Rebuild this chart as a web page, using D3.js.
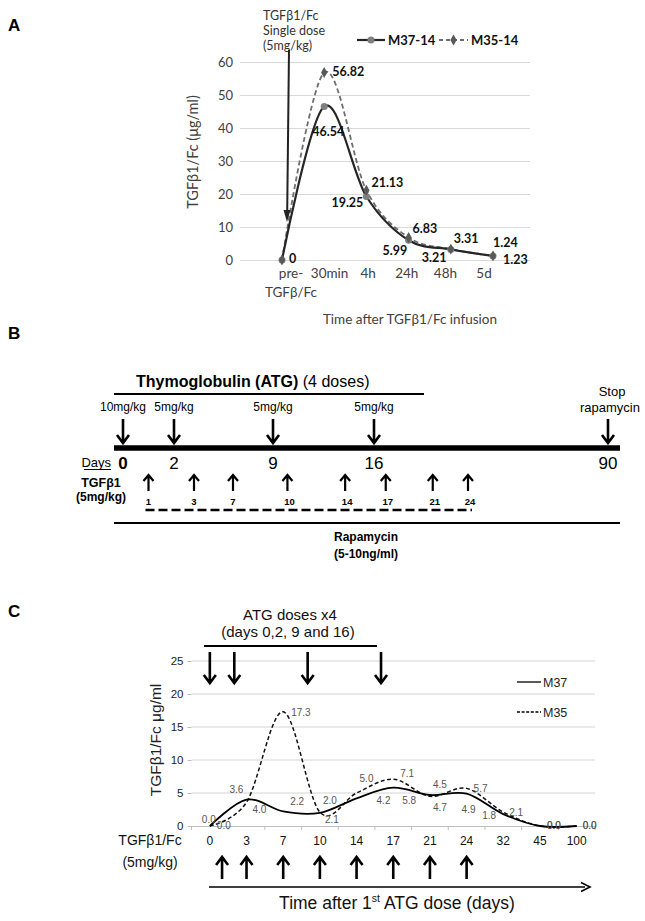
<!DOCTYPE html>
<html><head><meta charset="utf-8">
<script src="https://cdn.jsdelivr.net/npm/d3@7"></script>
<style>body{margin:0;background:#fff} svg{display:block}</style>
</head><body>
<svg id="c" width="645" height="921"></svg>
<script>
// ---------- DATA ----------
// Panel A
const aCategories = ["pre-TGFβ/Fc","30min","4h","24h","48h","5d"];
const aLabelLines = [["pre-","TGFβ/Fc"],["30min"],["4h"],["24h"],["48h"],["5d"]];
const aM37 = [0, 46.54, 19.25, 5.99, 3.21, 1.23];
const aM35 = [0, 56.82, 21.13, 6.83, 3.31, 1.24];
const aYTicks = [0,10,20,30,40,50,60];
// Panel B
const bAtgDays = [0,2,9,16];
const bAtgDoses = ["10mg/kg","5mg/kg","5mg/kg","5mg/kg"];
const bStopDay = 90;
const bDayLabels = [0,2,9,16,90];
const bTgfDays = [1,3,7,10,14,17,21,24];
// Panel C
const cDays = ["0","3","7","10","14","17","21","24","32","45","100"];
const cM37 = [0.0,4.0,2.2,2.0,4.2,5.8,4.7,4.9,1.8,0.0,0.0];
const cM35 = [0.0,3.6,17.3,2.1,5.0,7.1,4.5,5.7,2.1,0.0,0.0];
const cYTicks = [0,5,10,15,20,25];
const cAtgDays = [0,2,9,16];
const cTgfDays = [1,3,7,10,14,17,21,24];

// ---------- STYLE / LABEL PLACEMENT ----------
const aM37LabelOff = [[7,3],[-12,30],[-35,11],[-26,15],[-29,13],[10,8]];
const aM35LabelOff = [[7,3],[8,4],[5,-3],[4,-4],[3,-6],[0,-9]];
const cM37LabelOff = [[-8,-3],[6,13],[7,-6.5],[3,-9],[20,5.5],[9,16],[3,16],[-5,19],[-21,5],[7,3],[6,3]];
const cM35LabelOff = [[7,3],[-17,-9.5],[8,4],[5,11],[3,-11.5],[7,-2.5],[3,-8.5],[7,3.5],[6,3.5],[7,3],[6,3]];

const svg = d3.select("#c");
const FA = "Lato, 'Open Sans', sans-serif";
const FB = "'Liberation Sans', Arial, sans-serif";

function arrowV(g, x, y1, y2, head, w, hw) {
  const dir = Math.sign(y2 - y1);
  hw = hw || head;
  g.append("path")
    .attr("d", `M${x},${y1}L${x},${y2 - dir*1}M${x-hw},${y2-dir*head}L${x},${y2}L${x+hw},${y2-dir*head}`)
    .attr("fill","none").attr("stroke","#000").attr("stroke-width",w)
    .attr("stroke-linejoin","miter").attr("stroke-linecap","butt");
}
function txt(g, x, y, s, o) {
  o = o || {};
  return g.append("text").attr("x",x).attr("y",y).text(s)
    .attr("font-family", o.ff || FB).attr("font-size", o.fs || 12)
    .attr("font-weight", o.fw || "normal").attr("fill", o.fill || "#000")
    .attr("text-anchor", o.anchor || "start");
}

// ================= PANEL A =================
const A = svg.append("g");
txt(A, 8, 31, "A", {fs:17, fw:"bold"});
const ax = d3.scalePoint().domain(aCategories).range([282, 493]);
const axLab = d3.scalePoint().domain(aCategories).range([291, 484]);
const ay = d3.scaleLinear().domain([0,60]).range([260,62]);

const aAxis = A.append("g").attr("transform","translate(240,0)")
  .call(d3.axisLeft(ay).tickValues(aYTicks).tickSize(-290).tickPadding(7));
aAxis.select(".domain").remove();
aAxis.selectAll(".tick line").attr("stroke","#d9d9d9");
aAxis.selectAll(".tick text").attr("font-family",FA).attr("font-size",13).attr("fill","#404040");

A.append("text").attr("transform","translate(198,152) rotate(-90)")
  .attr("text-anchor","middle").attr("font-family",FA).attr("font-size",14.5).attr("fill","#404040")
  .text("TGFβ1/Fc (μg/ml)");
aCategories.forEach((c,i) => {
  aLabelLines[i].forEach((ln,j) => {
    txt(A, axLab(c), 278 + j*19, ln, {ff:FA, fs:13.5, anchor:"middle", fill:"#404040"});
  });
});
txt(A, 410, 323.5, "Time after TGFβ1/Fc infusion", {ff:FA, fs:13.5, anchor:"middle", fill:"#404040"});

const smooth = d3.curveCatmullRom.alpha(0);
const aLine = d3.line().x((d,i)=>ax(aCategories[i])).y(d=>ay(d)).curve(smooth);
A.append("path").attr("d", aLine(aM35)).attr("fill","none").attr("stroke","#6e6e6e")
  .attr("stroke-width",1.8).attr("stroke-dasharray","5,3");
A.append("path").attr("d", aLine(aM37)).attr("fill","none").attr("stroke","#262626")
  .attr("stroke-width",2.2);
A.selectAll("circle.m37").data(aM37).join("circle").attr("cx",(d,i)=>ax(aCategories[i])).attr("cy",d=>ay(d))
  .attr("r",3.5).attr("fill","#7f7f7f");
const diamond = d3.symbol().type(d3.symbolDiamond).size(34);
A.selectAll("path.m35").data(aM35).join("path").attr("d",diamond)
  .attr("transform",(d,i)=>`translate(${ax(aCategories[i])},${ay(d)})`).attr("fill","#595959");
aM37.forEach((v,i) => {
  const [dx,dy] = aM37LabelOff[i];
  txt(A, ax(aCategories[i])+dx, ay(v)+dy, String(v), {ff:FA, fs:12.5, fw:"bold", fill:"#111"});
});
aM35.forEach((v,i) => {
  if (i === 0) return;
  const [dx,dy] = aM35LabelOff[i];
  txt(A, ax(aCategories[i])+dx, ay(v)+dy, String(v), {ff:FA, fs:12.5, fw:"bold", fill:"#111"});
});
A.append("line").attr("x1",357).attr("x2",385).attr("y1",40).attr("y2",40).attr("stroke","#262626").attr("stroke-width",2.2);
A.append("circle").attr("cx",371).attr("cy",40).attr("r",3.5).attr("fill","#7f7f7f");
txt(A, 388, 44.5, "M37-14", {ff:FA, fs:13, fw:"bold", fill:"#111"});
A.append("line").attr("x1",439).attr("x2",468).attr("y1",40).attr("y2",40).attr("stroke","#6e6e6e").attr("stroke-width",1.8).attr("stroke-dasharray","4,3");
A.append("path").attr("d",diamond).attr("transform","translate(453.5,40)").attr("fill","#595959");
txt(A, 471, 44.5, "M35-14", {ff:FA, fs:13, fw:"bold", fill:"#111"});
["TGFβ1/Fc","Single dose","(5mg/kg)"].forEach((s,i)=> txt(A, 263, 19.5+i*15, s, {ff:FA, fs:12.5, fill:"#333"}));
A.append("line").attr("x1",289).attr("y1",50).attr("x2",287.2).attr("y2",212).attr("stroke","#222").attr("stroke-width",2);
A.append("path").attr("d","M283.5,210L287,222L290.5,210Z").attr("fill","#222");

// ================= PANEL B =================
const B = svg.append("g");
txt(B, 8, 339, "B", {fs:17, fw:"bold"});
const bx = d3.scaleLinear().domain([0,2,3,7,9,16,24,90]).range([123,174,194,233,273,374,468,608]);

const title = B.append("text").attr("x",136).attr("y",387).attr("font-family",FB).attr("font-size",16);
title.append("tspan").attr("font-weight","bold").text("Thymoglobulin (ATG)");
title.append("tspan").text(" (4 doses)");
B.append("line").attr("x1",bx(0)-9).attr("x2",bx(16)+50).attr("y1",394).attr("y2",394).attr("stroke","#000").attr("stroke-width",2);

bAtgDays.forEach((d,i) => {
  txt(B, bx(d), 411, bAtgDoses[i], {fs:12, anchor:"middle"});
  arrowV(B, bx(d), 419, 443, 8, 2.6, 6);
});
txt(B, bx(bStopDay)+4, 396, "Stop", {fs:13, anchor:"middle"});
txt(B, bx(bStopDay)+2, 412, "rapamycin", {fs:13, anchor:"middle"});
arrowV(B, bx(bStopDay), 419, 443, 8, 2.6, 6);
B.append("line").attr("x1",bx(0)-9).attr("x2",bx(bStopDay)+12).attr("y1",448).attr("y2",448).attr("stroke","#000").attr("stroke-width",5.5);

txt(B, 111, 467, "Days", {fs:13, anchor:"end"});
B.append("line").attr("x1",84).attr("x2",111).attr("y1",469.5).attr("y2",469.5).attr("stroke","#000").attr("stroke-width",1);
bDayLabels.forEach((d,i) => txt(B, bx(d), 469, String(d), {fs:17, anchor:"middle", fw: i===0 ? "bold":"normal"}));

txt(B, 101, 487, "TGFβ1", {fs:12.5, fw:"bold", anchor:"middle"});
txt(B, 101, 501, "(5mg/kg)", {fs:12, fw:"bold", anchor:"middle"});
bTgfDays.forEach(d => {
  arrowV(B, bx(d), 491, 475, 6, 2.2, 5);
  txt(B, bx(d)+ (d>=10?2:0), 505, String(d), {fs:9.5, fw:"bold", anchor:"middle"});
});
B.append("line").attr("x1",bx(1)-3).attr("x2",bx(24)+4).attr("y1",510).attr("y2",510).attr("stroke","#000").attr("stroke-width",2.5).attr("stroke-dasharray","9,4");
B.append("line").attr("x1",bx(0)-9).attr("x2",bx(bStopDay)+12).attr("y1",523).attr("y2",523).attr("stroke","#000").attr("stroke-width",2);
txt(B, 366, 541, "Rapamycin", {fs:12, fw:"bold", anchor:"middle"});
txt(B, 366, 558, "(5-10ng/ml)", {fs:12, fw:"bold", anchor:"middle"});

// ================= PANEL C =================
const C = svg.append("g");
txt(C, 8, 617, "C", {fs:17, fw:"bold"});
const cxb = d3.scaleBand().domain(cDays).range([191.5, 595]);
const cxc = d => cxb(d) + cxb.bandwidth()/2;
const cy = d3.scaleLinear().domain([0,25]).range([826,661]);
const cDayX = d3.scaleLinear().domain(cDays.map(Number)).range(cDays.map(cxc));

C.selectAll("line.grid").data(cYTicks.filter(d=>d>0)).join("line")
  .attr("x1",191.5).attr("x2",595).attr("y1",d=>cy(d)).attr("y2",d=>cy(d)).attr("stroke","#d4d4d4");
const cyAxis = C.append("g").attr("transform","translate(191.5,0)")
  .call(d3.axisLeft(cy).tickValues(cYTicks).tickSize(4).tickPadding(4));
cyAxis.select(".domain").remove();
cyAxis.selectAll(".tick line").attr("stroke","#bfbfbf");
cyAxis.selectAll(".tick text").attr("font-family",FB).attr("font-size",11.5).attr("fill","#222");
const cxAxis = C.append("g").attr("transform","translate(0,826)")
  .call(d3.axisBottom(cxb).tickSize(0).tickPadding(10));
cxAxis.select(".domain").attr("stroke","#bfbfbf");
cxAxis.selectAll(".tick text").attr("font-family",FB).attr("font-size",12).attr("fill","#111");
C.selectAll("line.xt").data(d3.range(cDays.length+1)).join("line")
  .attr("x1",i=>191.5+i*cxb.bandwidth()).attr("x2",i=>191.5+i*cxb.bandwidth())
  .attr("y1",826).attr("y2",830).attr("stroke","#bfbfbf");

C.append("text").attr("transform","translate(161,740) rotate(-90)")
  .attr("text-anchor","middle").attr("font-family",FB).attr("font-size",15.5).attr("fill","#222")
  .text("TGFβ1/Fc μg/ml");

const cLine = d3.line().x((d,i)=>cxc(cDays[i])).y(d=>cy(d)).curve(smooth);
C.append("path").attr("d",cLine(cM35)).attr("fill","none").attr("stroke","#111").attr("stroke-width",1.5).attr("stroke-dasharray","4,2.5");
C.append("path").attr("d",cLine(cM37)).attr("fill","none").attr("stroke","#000").attr("stroke-width",1.8);

cM37.forEach((v,i)=>{
  const [dx,dy] = cM37LabelOff[i];
  txt(C, cxc(cDays[i])+dx, cy(v)+dy, v.toFixed(1), {fs:10, fill:"#555"});
});
cM35.forEach((v,i)=>{
  const [dx,dy] = cM35LabelOff[i];
  txt(C, cxc(cDays[i])+dx, cy(v)+dy, v.toFixed(1), {fs:10, fill:"#555"});
});

C.append("line").attr("x1",517).attr("x2",541).attr("y1",682).attr("y2",682).attr("stroke","#000").attr("stroke-width",1.3);
txt(C, 543, 686.5, "M37", {fs:12.5, fill:"#222"});
C.append("line").attr("x1",517).attr("x2",541).attr("y1",712).attr("y2",712).attr("stroke","#000").attr("stroke-width",1.3).attr("stroke-dasharray","3,1.6");
txt(C, 543, 716.5, "M35", {fs:12.5, fill:"#222"});

txt(C, 290, 620, "ATG doses x4", {fs:15, anchor:"middle", fill:"#111"});
txt(C, 288, 637, "(days 0,2, 9 and 16)", {fs:15, anchor:"middle", fill:"#111"});
C.append("line").attr("x1",204).attr("x2",377).attr("y1",646).attr("y2",646).attr("stroke","#000").attr("stroke-width",2);
cAtgDays.forEach(d => arrowV(C, cDayX(d), 652, 683, 8, 2.6, 6));

txt(C, 150, 845, "TGFβ1/Fc", {fs:14, anchor:"middle", fill:"#111"});
txt(C, 150, 867, "(5mg/kg)", {fs:14, anchor:"middle", fill:"#111"});
cTgfDays.forEach(d => arrowV(C, cDayX(d), 879, 857, 8, 2.6, 6));
C.append("line").attr("x1",209).attr("x2",585).attr("y1",887).attr("y2",887).attr("stroke","#000").attr("stroke-width",1.6);
C.append("path").attr("d","M581,882.5L590,887L581,891.5").attr("fill","none").attr("stroke","#000").attr("stroke-width",1.6);
const tt = C.append("text").attr("x",397).attr("y",909).attr("text-anchor","middle").attr("font-family",FB).attr("font-size",17.5).attr("fill","#111");
tt.append("tspan").text("Time after 1");
tt.append("tspan").attr("font-size",10.5).attr("dy",-7).text("st");
tt.append("tspan").attr("dy",7).text(" ATG dose (days)");
</script>
</body></html>
